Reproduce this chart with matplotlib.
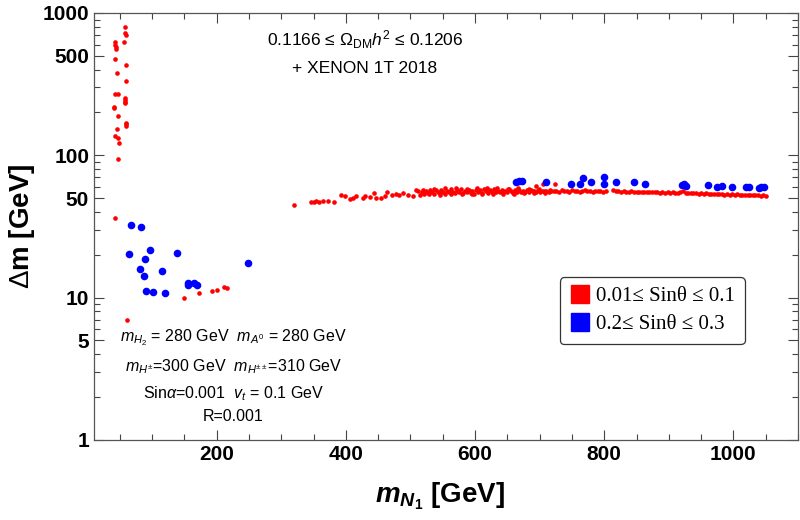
import numpy as np
import matplotlib
matplotlib.use("Agg")
import matplotlib.pyplot as plt
from matplotlib.ticker import FixedLocator, LogLocator, NullFormatter, MultipleLocator
from matplotlib.lines import Line2D

plt.rcParams['font.family'] = ['Liberation Sans', 'DejaVu Sans']
plt.rcParams['mathtext.fontset'] = 'custom'
plt.rcParams['mathtext.rm'] = 'Liberation Sans'
plt.rcParams['mathtext.it'] = 'Liberation Sans:italic'
plt.rcParams['mathtext.bf'] = 'Liberation Sans:bold'
plt.rcParams['mathtext.bfit'] = 'Liberation Sans:italic:bold'

# small sin(theta): left column near the Higgs pole
red_col_x = [57.7, 58.5, 59.5, 55.7, 42.2, 42.2, 43.5, 43.5, 42.2, 59, 45, 59, 42, 47,
             58, 58, 58, 58, 40.7, 40.7, 47, 59, 59, 59, 45, 42, 47, 48.5, 47, 42.2, 61.7]
red_col_y = [800, 719, 705, 628, 622, 600, 578, 557, 474, 430, 378, 334, 270, 270,
             253, 246, 238, 234, 218, 214, 189, 170, 165, 160, 153, 136, 132, 122, 94, 36, 7.0]

# small sin(theta): low dm points
red_low_x = [150, 173, 192, 201, 212, 216]
red_low_y = [10.0, 10.7, 11.2, 11.4, 11.8, 11.6]

# small sin(theta): band
red_band_x = [319, 346, 350, 354, 358, 364, 372, 381, 393, 398, 406, 411, 416, 426, 429,
              438, 444, 447, 455, 460, 464, 472, 477, 482, 489, 496, 504, 508, 514,
              518, 521, 524, 527, 530, 533, 536, 539, 542, 545, 548, 551, 554, 557, 560,
              563, 566, 569, 572, 575, 578, 581, 584, 587, 590, 593, 596, 599, 602, 605,
              608, 611, 614, 617, 620, 623, 626, 629, 632, 635, 638, 641, 644, 647, 650,
              653, 656, 659, 662, 665, 668, 671, 674, 677, 680, 683, 686, 689, 692, 694,
              695, 698, 701, 704, 705, 707, 710, 714, 718, 722, 723, 726, 730, 734, 738,
              742, 746, 750, 754, 758, 762, 766, 770, 774, 778, 782, 786, 790, 794, 798,
              802, 814, 818, 822, 826, 830, 834, 838, 842, 846, 850, 854, 858, 862, 866,
              870, 874, 878, 882, 886, 890, 894, 898, 902, 906, 910, 914, 918, 922, 926,
              930, 934, 938, 942, 946, 950, 954, 958, 962, 966, 970, 974, 978, 982, 986,
              990, 994, 998, 1002, 1006, 1010, 1014, 1018, 1022, 1026, 1030, 1034, 1038,
              1042, 1046, 1050]
red_band_y = [44.7, 47.0, 47.3, 47.5, 47.2, 48.0, 47.8, 46.6, 52.5, 52.0, 49.0, 50.4, 52.0, 50.4, 52.0,
              50.7, 54.2, 50.4, 50.4, 52.0, 55.4, 52.5, 53.5, 52.2, 54.0, 52.5, 52.0, 57.0, 53.0,
              55.0, 53.8, 56.2, 54.5, 57.0, 55.3, 53.9, 56.8, 55.0, 54.2, 57.5, 55.6, 53.8, 56.4, 54.9,
              57.8, 55.2, 54.0, 56.9, 55.5, 58.0, 54.6, 56.3, 55.0, 57.2, 54.3, 56.0, 53.6, 57.4, 55.4,
              56.6, 54.4, 57.9, 55.8, 54.7, 56.9, 55.3, 58.3, 54.9, 56.4, 55.6, 57.3, 54.8, 56.2, 55.1,
              57.6, 55.9, 54.6, 56.8, 55.4, 57.0, 54.9, 56.3, 55.5, 56.9, 55.2, 57.4, 55.8, 56.5, 60.8,
              55.0, 56.9, 55.6, 56.2, 62.6, 56.0, 56.2, 55.6, 56.5, 55.9, 62.6, 56.3, 55.4, 56.6, 55.8,
              56.2, 55.5, 56.7, 55.9, 56.3, 55.6, 56.0, 56.6, 55.7, 56.2, 55.5, 56.4, 55.8, 56.1, 55.6,
              56.3, 56.6, 55.8, 56.0, 55.4, 55.9, 55.6, 55.2, 55.8, 55.3, 55.6, 55.1, 55.5, 55.0, 55.4,
              54.8, 55.3, 54.9, 55.2, 54.7, 55.0, 54.6, 54.9, 54.5, 54.8, 54.4, 54.7, 55.5, 56.2, 54.5,
              54.2, 54.6, 54.0, 54.4, 53.9, 54.3, 53.7, 54.1, 53.5, 53.9, 53.4, 53.8, 53.2, 53.6, 53.0,
              53.4, 52.9, 53.2, 52.7, 53.1, 52.6, 52.9, 52.5, 52.8, 52.3, 52.6, 52.2, 52.5,
              52.1, 52.3, 52.0]
# extra points that thicken the band between 500 and 720 GeV
red_band2_x = [512, 520, 529, 537, 546, 553, 562, 571, 579, 588, 595, 603, 610, 619, 627,
               634, 643, 651, 660, 667, 675, 684, 691, 699, 708, 716]
red_band2_y = [55.8, 57.2, 53.2, 58.4, 53.0, 58.6, 53.4, 58.8, 53.1, 58.2, 53.3, 58.9, 53.6,
               58.5, 53.5, 59.0, 53.7, 58.1, 53.9, 58.7, 54.0, 58.4, 54.3, 57.9, 54.6, 57.2]

# larger sin(theta)
blue_low_x = [68, 83.5, 64, 96, 89, 138, 81, 116, 88, 156, 156, 165.5, 170, 91, 101, 119.5, 249]
blue_low_y = [32.3, 31.3, 20.2, 21.5, 18.6, 20.5, 16.0, 15.3, 14.1, 12.7, 12.2, 12.6, 12.3,
              11.1, 10.9, 10.7, 17.4]
blue_band_x = [663.5, 668, 672, 710, 749, 763, 767, 779.5, 799, 800, 818, 846, 863, 920, 924, 927,
               961, 975, 983, 998, 1020, 1024, 1040, 1043, 1047]
blue_band_y = [65, 66.5, 65.5, 64.5, 63.3, 63.3, 69.5, 65, 63.3, 70.5, 65, 65, 63.3, 61.5, 62.5,
               61.2, 61.9, 60.2, 60.8, 59.8, 60, 60, 59.2, 60, 59.5]

fig = plt.figure(figsize=(8, 5.2), dpi=100)
ax = fig.add_axes([0.1175, 0.154, 0.88, 0.821])

ax.scatter(red_col_x + red_low_x + red_band_x + red_band2_x,
           red_col_y + red_low_y + red_band_y + red_band2_y,
           s=11, color='red', linewidths=0, zorder=2)
ax.scatter(blue_low_x + blue_band_x, blue_low_y + blue_band_y,
           s=30, color='blue', linewidths=0, zorder=3)

ax.set_yscale('log')
ax.set_xlim(10, 1100)
ax.set_ylim(1, 1000)

ax.xaxis.set_major_locator(FixedLocator([200, 400, 600, 800, 1000]))
ax.xaxis.set_minor_locator(MultipleLocator(50))
ax.yaxis.set_major_locator(FixedLocator([1, 5, 10, 50, 100, 500, 1000]))
ax.yaxis.set_minor_locator(LogLocator(base=10, subs=np.arange(2, 10)))
ax.yaxis.set_minor_formatter(NullFormatter())
ax.set_yticklabels(['1', '5', '10', '50', '100', '500', '1000'])
ax.tick_params(which='both', direction='in', top=True, right=True, colors='#444444',
               labelcolor='black', width=0.8)
ax.tick_params(which='major', length=7)
ax.tick_params(which='minor', length=4)
for lab in ax.get_xticklabels() + ax.get_yticklabels():
    lab.set_fontweight('bold')
    lab.set_fontsize(15)
    lab.set_fontstretch('condensed')
for sp in ax.spines.values():
    sp.set_color('#555555')
    sp.set_linewidth(0.9)

fig.text(0.028, 0.565, r'$\Delta$m [GeV]', rotation=90, ha='center', va='center',
         fontsize=20, fontweight='bold')
fig.text(0.55, 0.045, r'$\mathbfit{m}_{\mathbfit{N}_\mathbf{1}}$ [GeV]', ha='center', va='center',
         fontsize=20, fontweight='bold')

ax.text(0.385, 0.937, r'0.1166 ≤ $\Omega_{\rm DM}h^2$ ≤ 0.1206', transform=ax.transAxes,
        ha='center', va='center', fontsize=12.5)
ax.text(0.385, 0.871, '+ XENON 1T 2018', transform=ax.transAxes,
        ha='center', va='center', fontsize=12.5)

params = [r'$m_{H_2}$ = 280 GeV  $m_{A^0}$ = 280 GeV',
          r'$m_{H^{\pm}}$=300 GeV  $m_{H^{\pm\pm}}$=310 GeV',
          r'Sin$\alpha$=0.001  $v_t$ = 0.1 GeV',
          'R=0.001']
for txt, yy in zip(params, [0.239, 0.171, 0.108, 0.054]):
    ax.text(0.198, yy, txt, transform=ax.transAxes, ha='center', va='center', fontsize=11.5)

handles = [Line2D([], [], marker='s', color='red', linestyle='none', markersize=13),
           Line2D([], [], marker='s', color='blue', linestyle='none', markersize=13)]
leg = ax.legend(handles, ['0.01≤ Sinθ ≤ 0.1', '0.2≤ Sinθ ≤ 0.3'], loc='upper left',
                bbox_to_anchor=(0.647, 0.405), prop={'family': 'Liberation Serif', 'size': 15},
                frameon=True, fancybox=True, edgecolor='black', handletextpad=0.3,
                borderpad=0.45, labelspacing=0.4, handlelength=1.0)
leg.get_frame().set_linewidth(0.9)

fig.savefig('out.png', dpi=100)
